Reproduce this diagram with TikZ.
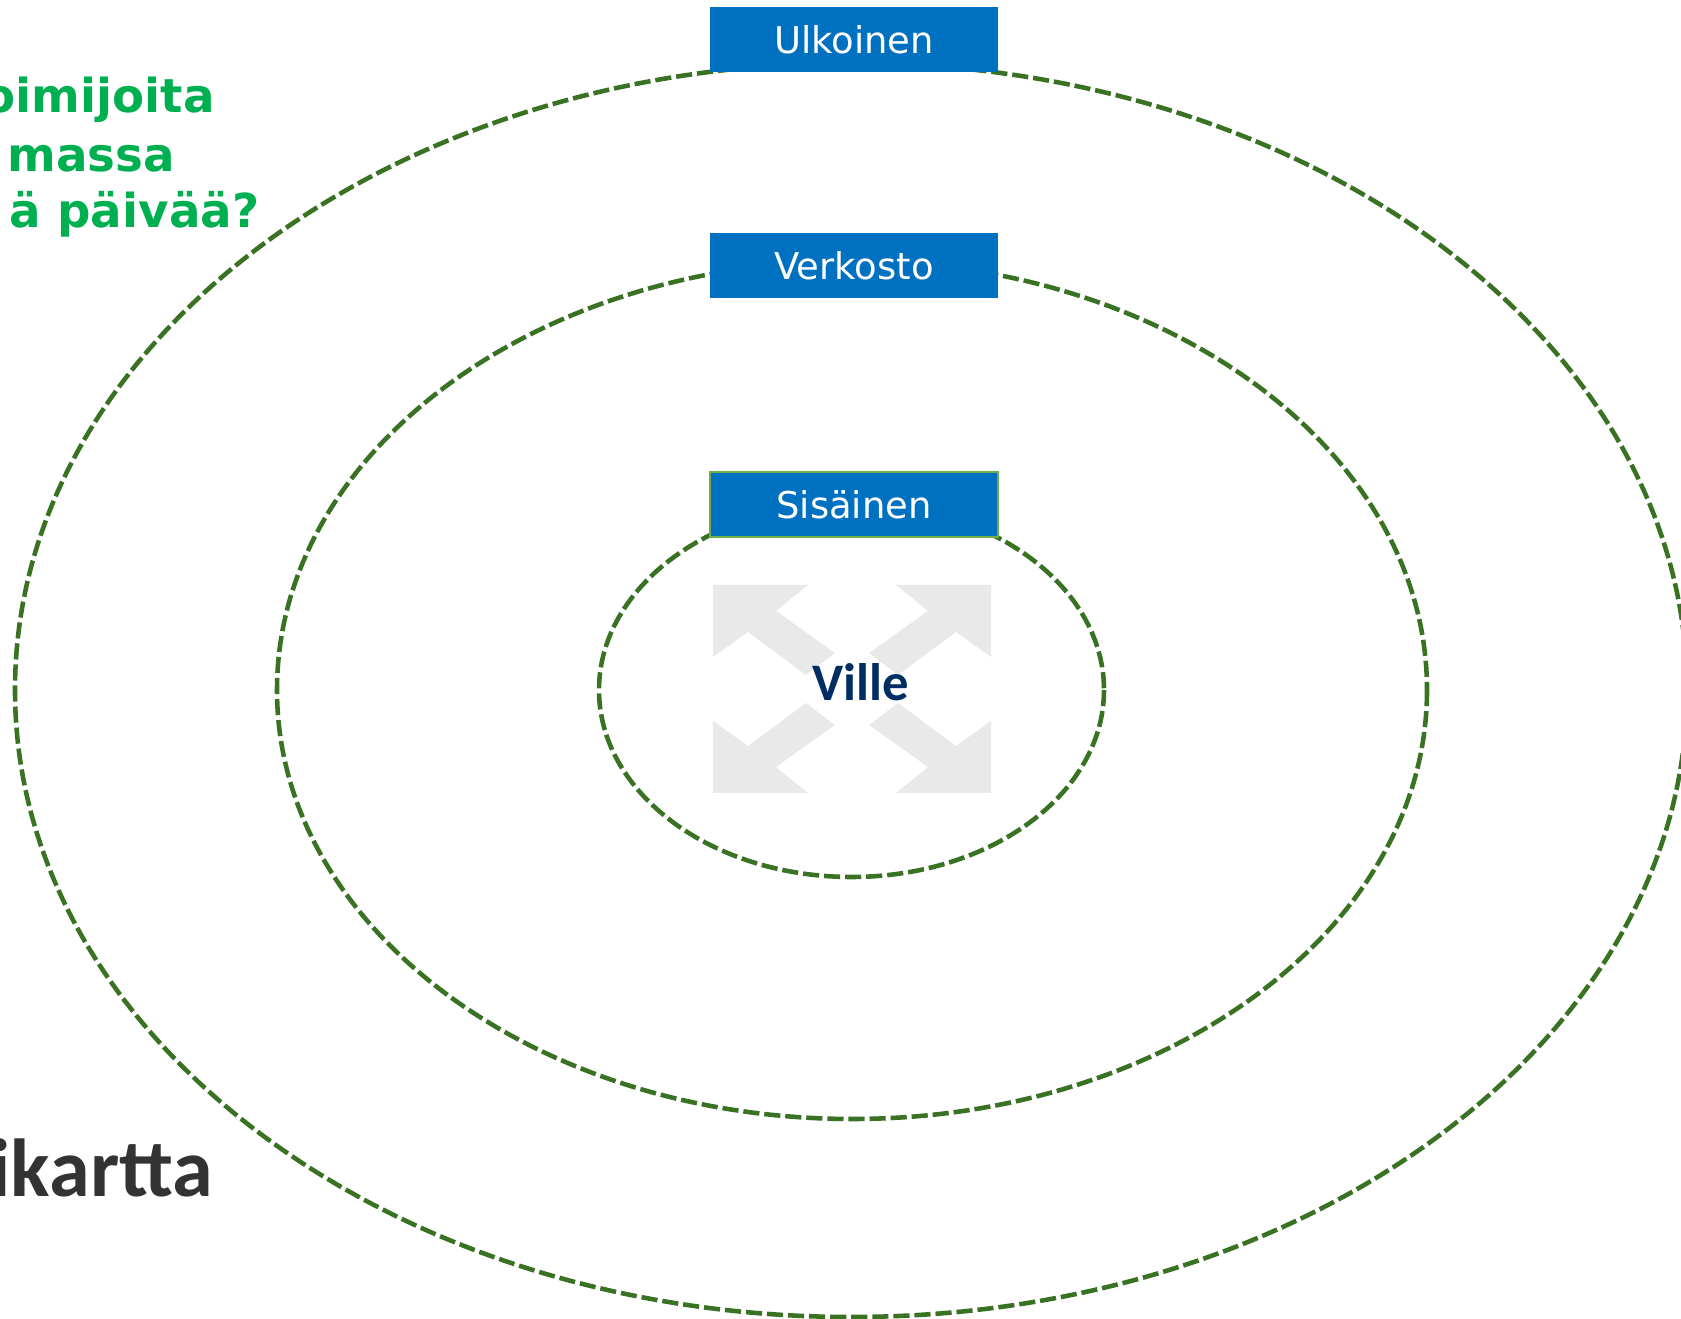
\documentclass[tikz,border=0pt]{standalone}
\usepackage{fontspec}
\setmainfont{DejaVu Sans}
\newfontfamily\calfont{Carlito}
\definecolor{ringgreen}{RGB}{58,114,36}
\definecolor{boxblue}{RGB}{0,112,192}
\definecolor{boxrim}{RGB}{112,173,71}
\definecolor{qgreen}{RGB}{0,176,80}
\definecolor{villenavy}{RGB}{0,45,98}
\definecolor{icongray}{RGB}{233,233,233}
\definecolor{titlegray}{RGB}{51,51,51}
\begin{document}
\begin{tikzpicture}[x=0.1mm,y=-0.1mm,ring/.style={draw=ringgreen,line width=1.3pt,dash pattern=on 4.6pt off 1.4pt},layer/.style={fill=boxblue,text=white,minimum width=28.8mm,minimum height=6.5mm,inner sep=0pt,font=\fontsize{10.5}{12}\selectfont},layerS/.style={layer,draw=boxrim,line width=0.3pt},question/.style={text=qgreen,anchor=base west,inner sep=0pt,font=\bfseries\fontsize{13.3}{16}\selectfont},arrowpart/.style={fill=icongray}]
\def\cx{852};
\def\cy{690};

\useasboundingbox (0,0) rectangle (1681,1319);
\clip (0,0) rectangle (1681,1319);

\draw[ring] (\cx-1,\cy) ellipse [x radius=836, y radius=627];
\draw[ring] (\cx,\cy) ellipse [x radius=575, y radius=429];
\draw[ring] (\cx-0.5,\cy) ellipse [x radius=252.5, y radius=187];

\foreach \sx/\sy in {1/1,-1/1,1/-1,-1/-1}
  \fill[arrowpart,shift={(\cx,689)},xscale=\sx,yscale=\sy] (-139,-104) -- (-44,-104) -- (-76,-78) -- (-17,-36) -- (-46,-14) -- (-104,-57) -- (-139,-32) -- cycle;

\node[layer] (outer) at (854,40) {Ulkoinen};
\node[layer] (net) at (854,265.5) {Verkosto};
\node[layerS] (inner) at (854,504.5) {Sisäinen};

\node[text=villenavy,anchor=base,font=\calfont\bfseries\fontsize{15}{18}\selectfont] (ville) at (861,701) {Ville};

\node[question] (q1) at (-17,113) {oimijoita};
\node[question] (q2) at (7,172) {massa};
\node[question] (q3) at (9,228) {ä päivää?};

\node[text=titlegray,anchor=base west,inner sep=0pt,font=\calfont\bfseries\fontsize{23.4}{28}\selectfont] (title) at (-10,1197) {ikartta};
\end{tikzpicture}
\end{document}
